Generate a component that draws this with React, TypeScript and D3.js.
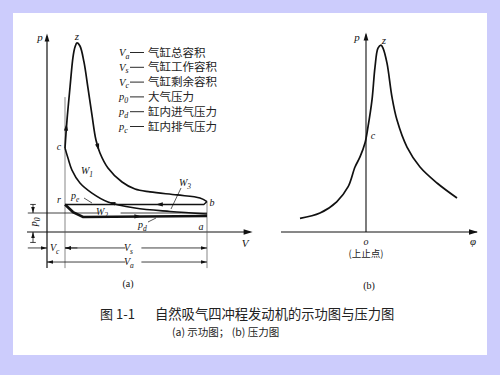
import * as d3 from "d3";

const width = 500;
const height = 375;

// (a) p–V indicator diagram. V in tenths of Va, p in units of p0
const Va = 10;
const Vc = 1.125;
const p0 = 1;

const expansionLine: [number, number][] = [
  [1.125, 4.42], [1.25, 5.89], [1.44, 7.63], [1.625, 9.21], [1.75, 9.74],
  [1.875, 9.95], [2.06, 9.79], [2.31, 8.95], [2.56, 7.58], [2.81, 6.16],
  [3.06, 4.84], [3.31, 4.16], [3.81, 3.37], [4.69, 2.63], [5.5, 2.26],
  [6.44, 2.11], [8.125, 1.95], [9.56, 1.79], [10, 1.6],
];
const exhaustLine: [number, number][] = [[10, 1.6], [9.8, 1.45], [1.125, 1.45]];
const intakeLine: [number, number][] = [[1.125, 1.45], [1.625, 1.05], [2.25, 0.79], [10, 0.84]];
const compressionLine: [number, number][] = [
  [10, 0.95], [7.69, 1.08], [5.5, 1.26], [3.81, 1.58], [2.81, 2.05],
  [2.06, 2.58], [1.56, 3.26], [1.31, 3.89], [1.125, 4.42],
];

const legendSymbols = [["V", "a"], ["V", "s"], ["V", "c"], ["p", "0"], ["p", "d"], ["p", "c"]];
const legendTexts = ["气缸总容积", "气缸工作容积", "气缸剩余容积", "大气压力", "缸内进气压力", "缸内排气压力"];

// (b) p–φ pressure diagram, φ in crank degrees
const pressureLine: [number, number][] = [
  [-132, 0.72], [-92, 1.0], [-58.6, 1.59], [-36, 2.37], [-22, 3.42],
  [-12, 3.95], [-2, 4.68], [4, 5.53], [12, 6.95], [18, 8.68], [24, 9.68],
  [30, 9.84], [34, 9.68], [42, 8.89], [52, 7.1], [62, 5.89], [82, 4.47],
  [108, 3.42], [142, 2.58], [182, 1.79],
];

const captionTitle = "图 1-1";
const captionText = "自然吸气四冲程发动机的示功图与压力图";
const subCaption = "(a) 示功图；  (b) 压力图";

const serif = "'Liberation Serif', 'DejaVu Serif', serif";
const cjk = "'Noto Sans CJK SC', sans-serif";
const ink = "#111";

const xa = d3.scaleLinear().domain([0, 10]).range([47, 207]);
const ya = d3.scaleLinear().domain([0, 10]).range([232, 42]);
const xb = d3.scaleLinear().domain([0, 100]).range([366, 416]);
const yb = d3.scaleLinear().domain([0, 10]).range([232, 42]);

const Arrow = ({ x, y, angle, size = 7 }: { x: number; y: number; angle: number; size?: number }) => (
  <path
    d={`M0,0L${-size},${-size * 0.3}L${-size},${size * 0.3}Z`}
    transform={`translate(${x},${y}) rotate(${angle})`}
    fill={ink}
  />
);

// arrowhead at point `to`, pointing away from `from`, both in data units
const dirArrow = (from: [number, number], to: [number, number], x: any, y: any, size = 7) => {
  const ang = (Math.atan2(y(to[1]) - y(from[1]), x(to[0]) - x(from[0])) * 180) / Math.PI;
  return <Arrow x={x(to[0])} y={y(to[1])} angle={ang} size={size} />;
};

const Sub = ({ base, sub, x, y, size = 11, anchor = "start" }: any) => (
  <text x={x} y={y} fontFamily={serif} fontStyle="italic" fontSize={size} textAnchor={anchor} fill={ink}>
    {base}
    <tspan fontSize={size * 0.75} dy={size * 0.25}>{sub}</tspan>
  </text>
);

const Lbl = ({ x, y, t, size = 10, anchor = "middle" }: any) => (
  <text x={x} y={y} fontFamily={serif} fontStyle="italic" fontSize={size} textAnchor={anchor} fill={ink}>
    {t}
  </text>
);

export default function App() {
  const smoothA = d3
    .line<[number, number]>()
    .x((d) => xa(d[0]))
    .y((d) => ya(d[1]))
    .curve(d3.curveCatmullRom.alpha(0.5));
  const straightA = d3.line<[number, number]>().x((d) => xa(d[0])).y((d) => ya(d[1]));
  const smoothB = d3
    .line<[number, number]>()
    .x((d) => xb(d[0]))
    .y((d) => yb(d[1]))
    .curve(d3.curveCatmullRom.alpha(0.5));

  const dimY1 = -0.84;
  const dimY2 = -1.58;
  const bottom = -1.9;

  return (
    <svg
      width={width}
      height={height}
      viewBox={`0 0 ${width} ${height}`}
      style={{ position: "fixed", left: 0, top: 0, display: "block" }}
    >
      <rect width={width} height={height} fill="#ccccfc" />
      <rect x={13} y={13} width={474} height={342} fill="#fff" />

      {/* ---------- (a) ---------- */}
      <g stroke={ink} fill="none">
        {/* axes */}
        <line x1={xa(0)} x2={xa(0)} y1={ya(bottom)} y2={ya(10.3)} strokeWidth={1.2} />
        <line x1={xa(-1.25)} x2={xa(12.7)} y1={ya(0)} y2={ya(0)} strokeWidth={1} />
        {/* extension lines */}
        <line x1={xa(Vc)} x2={xa(Vc)} y1={ya(bottom)} y2={ya(7.1)} strokeWidth={0.7} stroke="#555" />
        <line x1={xa(Va)} x2={xa(Va)} y1={ya(bottom)} y2={ya(1.6)} strokeWidth={0.7} stroke="#555" />
        {/* atmospheric line, broken at W2 */}
        <line x1={xa(-1.2)} x2={xa(3.2)} y1={ya(p0)} y2={ya(p0)} strokeWidth={0.8} />
        <line x1={xa(4.6)} x2={xa(Va)} y1={ya(p0)} y2={ya(p0)} strokeWidth={0.8} />
        {/* cycle */}
        <path d={smoothA(expansionLine) ?? ""} strokeWidth={1.7} />
        <path d={smoothA(compressionLine) ?? ""} strokeWidth={1.6} />
        <path d={straightA(exhaustLine) ?? ""} strokeWidth={1.4} />
        <path d={straightA(intakeLine) ?? ""} strokeWidth={2.6} />
        {/* leaders */}
        <line x1={181} y1={188} x2={171} y2={209} strokeWidth={0.7} />
        <line x1={84} y1={198} x2={92} y2={203} strokeWidth={0.7} />
        <line x1={148} y1={222} x2={156} y2={218} strokeWidth={0.7} />
        {/* p0 dimension */}
        <line x1={xa(-0.875)} x2={xa(-0.875)} y1={ya(1.45)} y2={ya(p0)} strokeWidth={0.8} />
        <line x1={xa(-1.05)} x2={xa(-0.7)} y1={ya(1.45)} y2={ya(1.45)} strokeWidth={0.8} />
        <line x1={xa(-0.875)} x2={xa(-0.875)} y1={ya(-0.55)} y2={ya(0)} strokeWidth={0.8} />
        <line x1={xa(-1.05)} x2={xa(-0.7)} y1={ya(-0.55)} y2={ya(-0.55)} strokeWidth={0.8} />
        {/* Vc dimension */}
        <line x1={xa(-1.2)} x2={xa(0)} y1={ya(dimY1)} y2={ya(dimY1)} strokeWidth={0.8} />
        <line x1={xa(Vc)} x2={xa(1.9)} y1={ya(dimY1)} y2={ya(dimY1)} strokeWidth={0.8} />
        {/* Vs dimension */}
        <line x1={xa(Vc)} x2={xa(4.9)} y1={ya(dimY1)} y2={ya(dimY1)} strokeWidth={0.8} />
        <line x1={xa(5.9)} x2={xa(Va)} y1={ya(dimY1)} y2={ya(dimY1)} strokeWidth={0.8} />
        {/* Va dimension */}
        <line x1={xa(0)} x2={xa(4.9)} y1={ya(dimY2)} y2={ya(dimY2)} strokeWidth={0.8} />
        <line x1={xa(5.9)} x2={xa(Va)} y1={ya(dimY2)} y2={ya(dimY2)} strokeWidth={0.8} />
      </g>

      {/* arrowheads (a) */}
      {dirArrow([0, 9], [0, 10.45], xa, ya, 8)}
      {dirArrow([11, 0], [12.85, 0], xa, ya, 9)}
      {dirArrow([1.125, 4.6], [1.22, 5.7], xa, ya, 7)}
      {dirArrow([3.06, 4.84], [3.25, 4.28], xa, ya, 7)}
      {dirArrow([7.5, 1.45], [6.8, 1.45], xa, ya, 7)}
      {dirArrow([5, 0.815], [5.9, 0.82], xa, ya, 7)}
      {dirArrow([4.2, 1.5], [3.9, 1.56], xa, ya, 6)}
      {dirArrow([-0.875, 1.45], [-0.875, p0], xa, ya, 6)}
      {dirArrow([-0.875, -0.55], [-0.875, 0], xa, ya, 6)}
      {dirArrow([-1.2, dimY1], [0, dimY1], xa, ya, 6)}
      {dirArrow([1.9, dimY1], [Vc, dimY1], xa, ya, 6)}
      {dirArrow([4.9, dimY1], [Vc, dimY1], xa, ya, 6)}
      {dirArrow([5.9, dimY1], [Va, dimY1], xa, ya, 6)}
      {dirArrow([4.9, dimY2], [0, dimY2], xa, ya, 6)}
      {dirArrow([5.9, dimY2], [Va, dimY2], xa, ya, 6)}

      {/* labels (a) */}
      <Lbl x={40} y={41} t="p" size={11} />
      <Lbl x={77} y={40} t="z" size={11} />
      <Lbl x={59} y={150} t="c" />
      <Lbl x={59} y={203} t="r" />
      <Lbl x={212} y={206} t="b" />
      <Lbl x={201} y={230} t="a" />
      <Lbl x={245} y={247} t="V" size={11} />
      <Sub base="W" sub="1" x={81} y={174} size={10} />
      <Sub base="W" sub="2" x={96} y={215} size={10} />
      <Sub base="W" sub="3" x={179} y={186} size={10} />
      <Sub base="p" sub="e" x={71} y={199} size={10} />
      <Sub base="p" sub="d" x={138} y={228} size={10} />
      <Sub base="V" sub="c" x={50} y={251} size={10} />
      <Sub base="V" sub="s" x={124} y={251} size={10} />
      <Sub base="V" sub="a" x={124} y={265} size={10} />
      <g transform={`translate(37, ${ya(0.53)}) rotate(-90)`}>
        <Sub base="p" sub="0" x={0} y={0} size={10} anchor="middle" />
      </g>
      <text x={128} y={287} fontFamily={serif} fontSize={10} textAnchor="middle" fill={ink}>(a)</text>

      {/* legend */}
      {legendSymbols.map((s, i) => (
        <g key={i}>
          <Sub base={s[0]} sub={s[1]} x={119} y={56 + i * 14.8} size={10.5} />
          <line x1={130} x2={144} y1={52.5 + i * 14.8} y2={52.5 + i * 14.8} stroke={ink} strokeWidth={0.9} />
          <text x={148} y={56.5 + i * 14.8} fontFamily={cjk} fontSize={11.5} fill="#222">
            {legendTexts[i]}
          </text>
        </g>
      ))}

      {/* ---------- (b) ---------- */}
      <g stroke={ink} fill="none">
        <line x1={xb(0)} x2={xb(0)} y1={yb(0)} y2={yb(10.4)} strokeWidth={1.1} />
        <line x1={xb(-170)} x2={xb(222)} y1={yb(0)} y2={yb(0)} strokeWidth={1} />
        <path d={smoothB(pressureLine) ?? ""} strokeWidth={1.7} />
      </g>
      {dirArrow([0, 9], [0, 10.5], xb, yb, 8)}
      {dirArrow([200, 0], [224, 0], xb, yb, 9)}
      <Lbl x={357} y={41} t="p" size={11} />
      <Lbl x={384} y={44} t="z" size={11} />
      <Lbl x={373} y={139} t="c" />
      <Lbl x={366} y={245} t="o" />
      <Lbl x={473} y={245} t="φ" size={11} />
      <text x={366} y={257} fontFamily={cjk} fontSize={9.5} textAnchor="middle" fill="#222">(上止点)</text>
      <text x={369} y={289} fontFamily={serif} fontSize={10} textAnchor="middle" fill={ink}>(b)</text>

      {/* caption */}
      <text x={100} y={319} fontFamily={cjk} fontSize={13} fill="#222">{captionTitle}</text>
      <text x={155} y={319} fontFamily={cjk} fontSize={13.3} fill="#222">{captionText}</text>
      <text x={172} y={336} fontFamily={cjk} fontSize={10.5} fill="#222">{subCaption}</text>
    </svg>
  );
}
